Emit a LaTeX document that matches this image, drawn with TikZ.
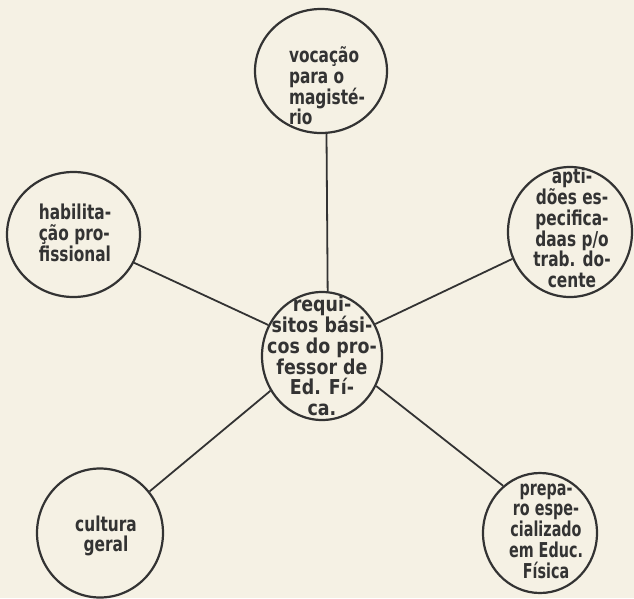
\documentclass[tikz,border=0pt]{standalone}
\usepackage{fontspec}
\setmainfont{DejaVu Sans Bold}[FakeStretch=0.75]
\newfontfamily\widefont{DejaVu Sans Bold}[FakeStretch=0.85]
\newfontfamily\narrowfont{DejaVu Sans Bold}[FakeStretch=0.70]
\usetikzlibrary{shapes.geometric}
\definecolor{paper}{HTML}{F5F1E4}
\definecolor{ink}{HTML}{333333}
\tikzset{
  ring/.style={draw=ink, line width=2.2pt, ellipse, inner sep=0pt},
  txt/.style={text=ink, inner sep=0pt, font=\fontsize{20.5}{20.7}\selectfont},
  link/.style={draw=ink, line width=1.8pt}
}
\begin{document}
\begin{tikzpicture}[x=1pt,y=-1pt]
\fill[paper] (0,0) rectangle (634,598);
\useasboundingbox (0,0) rectangle (634,598);
% rings
\node[ring, minimum width=132pt, minimum height=124pt] (voc) at (321,71) {};
\node[ring, minimum width=133pt, minimum height=125pt] (hab) at (73.5,234.5) {};
\node[ring, minimum width=124pt, minimum height=130pt] (apt) at (570,232) {};
\node[ring, minimum width=120pt, minimum height=128pt] (ctr) at (322,356) {};
\node[ring, minimum width=126pt, minimum height=129pt] (cul) at (100,533) {};
\node[ring, minimum width=114pt, minimum height=120pt] (pre) at (540,533) {};
% texts
\node[txt, align=left] (voct) at (327,86) {vocação\\para o\\magisté-\\rio};
\node[txt, align=left] (habt) at (75,233) {habilita-\\ção pro-\\fissional};
\node[txt, align=center] (aptt) at (572,228) {apti-\\dões es-\\pecifica-\\daas p/o\\trab. do-\\cente};
\node[txt, align=center, font=\widefont\fontsize{20.5}{20.7}\selectfont] (ctrt) at (322,356) {requi-\\sitos bási-\\cos do pro-\\fessor de\\Ed. Fí-\\ca.};
\node[txt, align=center] (cult) at (106,536) {cultura\\geral};
\node[txt, align=center, font=\narrowfont\fontsize{20.5}{20.7}\selectfont] (pret) at (546,531) {prepa-\\ro espe-\\cializado\\em Educ.\\Física};
% connectors
\draw[link] (voc.275.5) -- (ctr.85.5);
\draw[link] (hab.335) -- (ctr.150);
\draw[link] (apt.205.8) -- (ctr.31);
\draw[link] (cul.40.9) -- (ctr.214.7);
\draw[link] (pre.128.7) -- (ctr.331);
\end{tikzpicture}
\end{document}
